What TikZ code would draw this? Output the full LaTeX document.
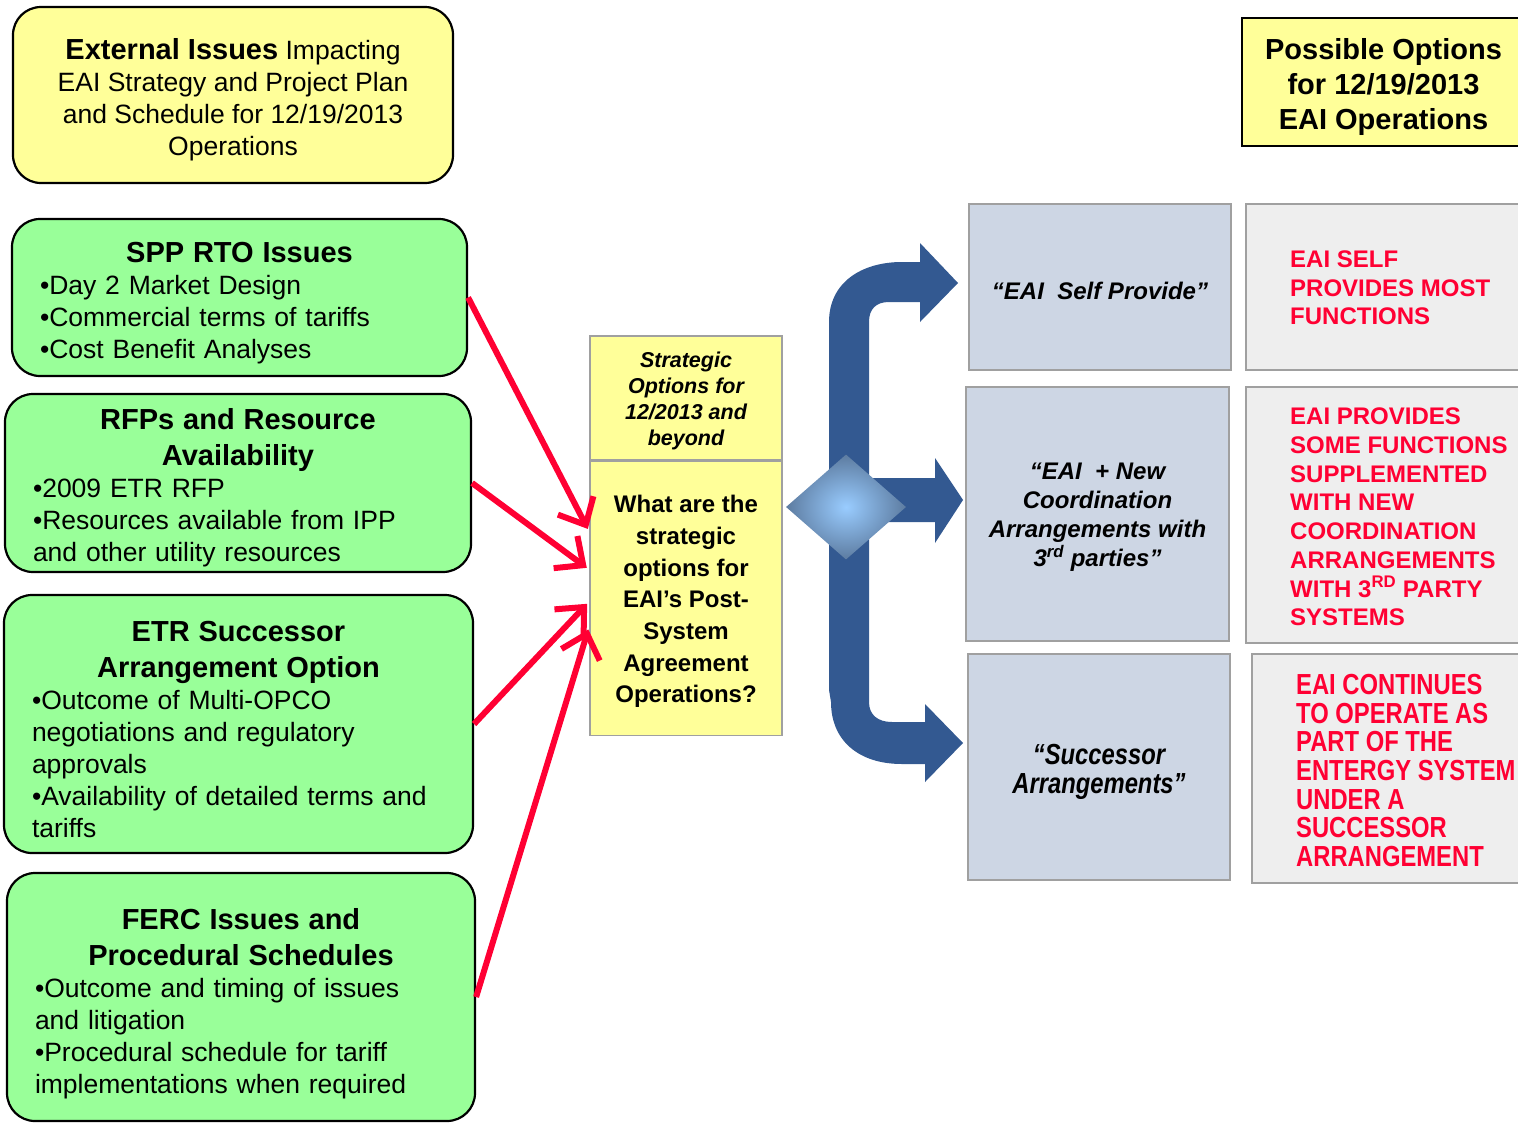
\documentclass[tikz,border=0pt]{standalone}
\usepackage{fontspec}
\setmainfont{Liberation Sans}
\newfontfamily\narrowsans[FakeStretch=0.82]{Liberation Sans}
\usepackage{tikz}
\usetikzlibrary{positioning,arrows.meta,shapes.geometric}
\definecolor{notefill}{HTML}{FFFF99}
\definecolor{issuefill}{HTML}{99FF99}
\definecolor{optfill}{HTML}{CDD6E4}
\definecolor{descfill}{HTML}{EEEEEE}
\definecolor{edgegray}{HTML}{A0A0A0}
\definecolor{flowred}{HTML}{FF0033}
\definecolor{flowblue}{HTML}{335991}
\definecolor{hubin}{HTML}{99CCFF}
\definecolor{hubout}{HTML}{4A6282}
\pgfdeclareradialshading{hubshade}{\pgfpoint{0bp}{0bp}}{color(0bp)=(hubin); color(33bp)=(hubout); color(50bp)=(hubout)}
\setlength{\parindent}{0pt}
\setlength{\parskip}{0pt}
\newcommand{\topstrut}[1]{\rule{0pt}{#1pt}}
\newcommand{\boxhead}[1]{{\centering\fontsize{29}{36}\selectfont\bfseries\topstrut{31}#1\par}}

\begin{document}
\begin{tikzpicture}[x=1pt,y=-1pt,
  issue/.style={draw, line width=2.2pt, rounded corners=28pt, fill=issuefill, inner xsep=28pt, inner ysep=0pt, font=\fontsize{26.5}{32}\selectfont},
  note/.style={draw=edgegray, line width=1.6pt, fill=notefill, inner sep=0pt, align=center},
  option/.style={draw=edgegray, line width=2pt, fill=optfill, inner sep=0pt, align=center, font=\fontsize{24}{29}\selectfont\bfseries\itshape},
  outcome/.style={draw=edgegray, line width=2pt, fill=descfill, inner sep=0pt},
  outtext/.style={anchor=west, inner sep=0pt, align=left, text=flowred, font=\fontsize{24}{28.7}\selectfont\bfseries},
  feed/.style={draw=flowred, line width=6pt, shorten >=3pt, -{Straight Barb[length=22pt,width=40pt]}}]
\useasboundingbox (0,0) rectangle (1518,1122);

\node[draw, line width=2.2pt, rounded corners=28pt, fill=notefill, minimum width=440pt, minimum height=176pt, align=center, font=\fontsize{26.5}{32}\selectfont] (ext) at (233,95) {\topstrut{30}\textbf{\fontsize{29}{32}\selectfont External Issues} Impacting\\EAI Strategy and Project Plan\\and Schedule for 12/19/2013\\Operations};

\node[issue, text width=399pt, minimum height=157pt] (spp) at (239.5,297.5) {\boxhead{SPP RTO Issues}•Day 2 Market Design\par •Commercial terms of tariffs\par •Cost Benefit Analyses};
\node[issue, text width=410pt, minimum height=178pt] (rfp) at (238,483) {\boxhead{RFPs and Resource\par Availability}•2009 ETR RFP\par •Resources available from IPP\par and other utility resources};
\node[issue, text width=413pt, minimum height=258pt] (etr) at (238.5,724) {\boxhead{ETR Successor\par Arrangement Option}•Outcome of Multi-OPCO\par negotiations and regulatory\par approvals\par •Availability of detailed terms and\par tariffs};
\node[issue, text width=412pt, minimum height=248pt] (ferc) at (241,997) {\boxhead{\topstrut{35}FERC Issues and\par Procedural Schedules}•Outcome and timing of issues\par and litigation\par •Procedural schedule for tariff\par implementations when required};

\node[note, minimum width=192pt, minimum height=124pt, font=\fontsize{21.5}{26}\selectfont\bfseries\itshape] (strat) at (686,398) {\topstrut{21.7}Strategic\\Options for\\12/2013 and\\beyond};
\node[note, minimum width=192pt, minimum height=274pt, font=\fontsize{24}{31.7}\selectfont\bfseries, below=0pt of strat] (q) {\topstrut{23.5}What are the\\strategic\\options for\\EAI’s Post-\\System\\Agreement\\Operations?};

\node[draw, line width=2.2pt, fill=notefill, minimum width=283pt, minimum height=128pt, align=center, font=\fontsize{29}{35}\selectfont\bfseries] (poss) at (1383.5,82) {\topstrut{31}Possible Options\\for 12/19/2013\\EAI Operations};

\node[option, minimum width=262pt, minimum height=166pt] (self) at (1100,287) {\topstrut{25.5}“EAI\ \ Self Provide”};
\node[option, minimum width=263pt, minimum height=254pt] (coord) at (1097.5,514) {\topstrut{23.5}“EAI\ \ + New\\Coordination\\Arrangements with\\3\textsuperscript{rd} parties”};
\node[option, minimum width=262pt, minimum height=226pt, font=\narrowsans\fontsize{29}{29}\selectfont\bfseries\itshape] (succ) at (1099,767) {\topstrut{29}“Successor\\Arrangements”};

\node[outcome, minimum width=279pt, minimum height=166pt] (selfd) at (1385.5,287) {};
\node[outcome, minimum width=279pt, minimum height=256pt] (coordd) at (1385.5,515) {};
\node[outcome, minimum width=273pt, minimum height=229pt] (succd) at (1388.5,768.5) {};
\node[outtext] (selft) at ([xshift=45pt,yshift=-1pt]selfd.west) {EAI SELF\\PROVIDES MOST\\FUNCTIONS};
\node[outtext] (coordt) at ([xshift=45pt,yshift=-2pt]coordd.west) {EAI PROVIDES\\SOME FUNCTIONS\\SUPPLEMENTED\\WITH NEW\\COORDINATION\\ARRANGEMENTS\\WITH 3\textsuperscript{RD} PARTY\\SYSTEMS};
\node[outtext, font=\narrowsans\fontsize{29}{28.7}\selectfont\bfseries] (succt) at ([xshift=45pt,yshift=-2pt]succd.west) {EAI CONTINUES\\TO OPERATE AS\\PART OF THE\\ENTERGY SYSTEM\\UNDER A\\SUCCESSOR\\ARRANGEMENT};

\coordinate (in1) at ([yshift=67pt]q.west);
\coordinate (in2) at ([yshift=29pt]q.west);
\coordinate (in3) at ([yshift=-3pt]q.west);
\coordinate (in4) at ([yshift=-28pt]q.west);
\draw[feed] (spp.east) -- (in1);
\draw[feed] (rfp.east) -- (in2);
\draw[feed] (etr.east) -- (in3);
\draw[feed] (ferc.east) -- (in4);

\fill[flowblue] (829,690) -- (829,322) .. controls (829,282) and (862,262) .. (902,262) -- (920,262) -- (920,243) -- (958,283) -- (920,322) -- (920,302) -- (889,302) .. controls (876,302) and (869,309) .. (869,322) -- (869,478) -- (935,478) -- (935,458) -- (963,500) -- (935,543) -- (935,522) -- (869,522) -- (869,702) .. controls (869,715) and (878,722) .. (892,722) -- (925,722) -- (925,704) -- (963,743) -- (925,782) -- (925,764) -- (902,764) .. controls (858,764) and (831,740) .. (831,702) -- cycle;
\node[diamond, minimum width=120pt, minimum height=105pt, inner sep=0pt, shading=hubshade] (hub) at (846,507) {};
\end{tikzpicture}
\end{document}
